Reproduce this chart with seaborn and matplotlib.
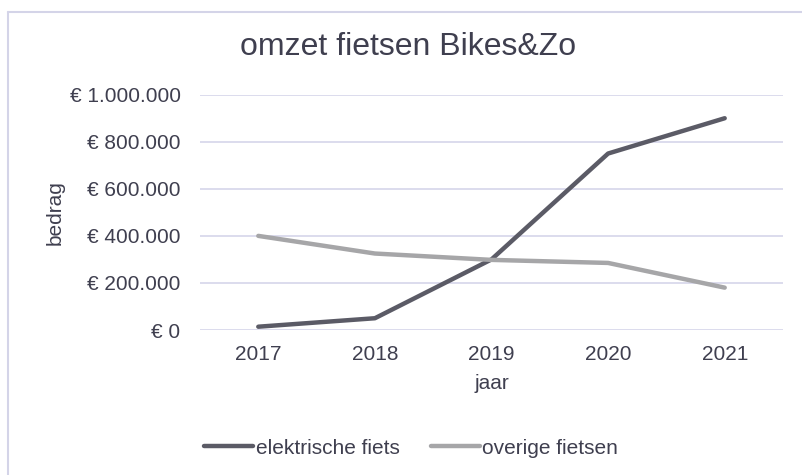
import matplotlib
matplotlib.use("Agg")
import matplotlib.pyplot as plt
from matplotlib.lines import Line2D
from matplotlib.ticker import FuncFormatter, MultipleLocator
import seaborn as sns
import pandas as pd

# Data
years = ["2017", "2018", "2019", "2020", "2021"]
elektrische_fiets = [14000, 50000, 300000, 750000, 900000]
overige_fietsen = [400000, 325000, 298000, 285000, 180000]
series_names = ["elektrische fiets", "overige fietsen"]
title = "omzet fietsen Bikes&Zo"
xlabel = "jaar"
ylabel = "bedrag"

df = pd.DataFrame({
    "jaar": years * 2,
    "bedrag": elektrische_fiets + overige_fietsen,
    "serie": [series_names[0]] * len(years) + [series_names[1]] * len(years),
})

sns.set_theme(style="white")
plt.rcParams["font.family"] = ["Liberation Sans", "DejaVu Sans"]
text_color = "#3f3f4f"
grid_color = "#d6d6ea"
fs = 15

fig = plt.figure(figsize=(8.02, 4.75), dpi=100)
ax = fig.add_axes([200 / 802, 1 - 330 / 475, 583 / 802, (330 - 94.7) / 475])

palette = {series_names[0]: "#5b5b66", series_names[1]: "#a6a6a8"}
sns.lineplot(data=df, x="jaar", y="bedrag", hue="serie", palette=palette,
             linewidth=3.2, sort=False, ax=ax, legend=False)

ax.set_xlim(-0.5, len(years) - 0.5)
ax.set_ylim(0, 1000000)
ax.yaxis.set_major_locator(MultipleLocator(200000))


def eur(v, pos):
    s = f"{int(round(v)):,}".replace(",", ".")
    return f"€ {s}"


ax.yaxis.set_major_formatter(FuncFormatter(eur))
ax.grid(axis="y", color=grid_color, linewidth=1.2)
ax.grid(axis="x", visible=False)
for sp in ax.spines.values():
    sp.set_visible(False)
ax.tick_params(axis="both", length=0, labelsize=fs, colors=text_color)
ax.tick_params(axis="y", pad=14)
ax.tick_params(axis="x", pad=11)
ax.set_axisbelow(True)

ax.set_xlabel(xlabel, fontsize=fs, color=text_color, labelpad=7)
ax.set_ylabel(ylabel, fontsize=fs, color=text_color, labelpad=3.5)

fig.text(408 / 802, 1 - 47 / 475, title, ha="center", va="center",
         fontsize=23, color=text_color)

handles = [Line2D([0], [0], color=palette[n], linewidth=3.2) for n in series_names]
fig.legend(handles, series_names, loc="center", bbox_to_anchor=(411 / 802, 1 - 448 / 475),
           ncol=2, frameon=False, fontsize=fs, labelcolor=text_color,
           handlelength=2.35, handletextpad=0.1, columnspacing=1.5)

# Chart border (top and left visible)
fig.add_artist(Line2D([8 / 802, 1], [1 - 12 / 475, 1 - 12 / 475], transform=fig.transFigure,
                      color="#d4d4e8", linewidth=1.5))
fig.add_artist(Line2D([8 / 802, 8 / 802], [0, 1 - 12 / 475], transform=fig.transFigure,
                      color="#d4d4e8", linewidth=1.5))

fig.savefig("out.png", dpi=100, facecolor="white")
